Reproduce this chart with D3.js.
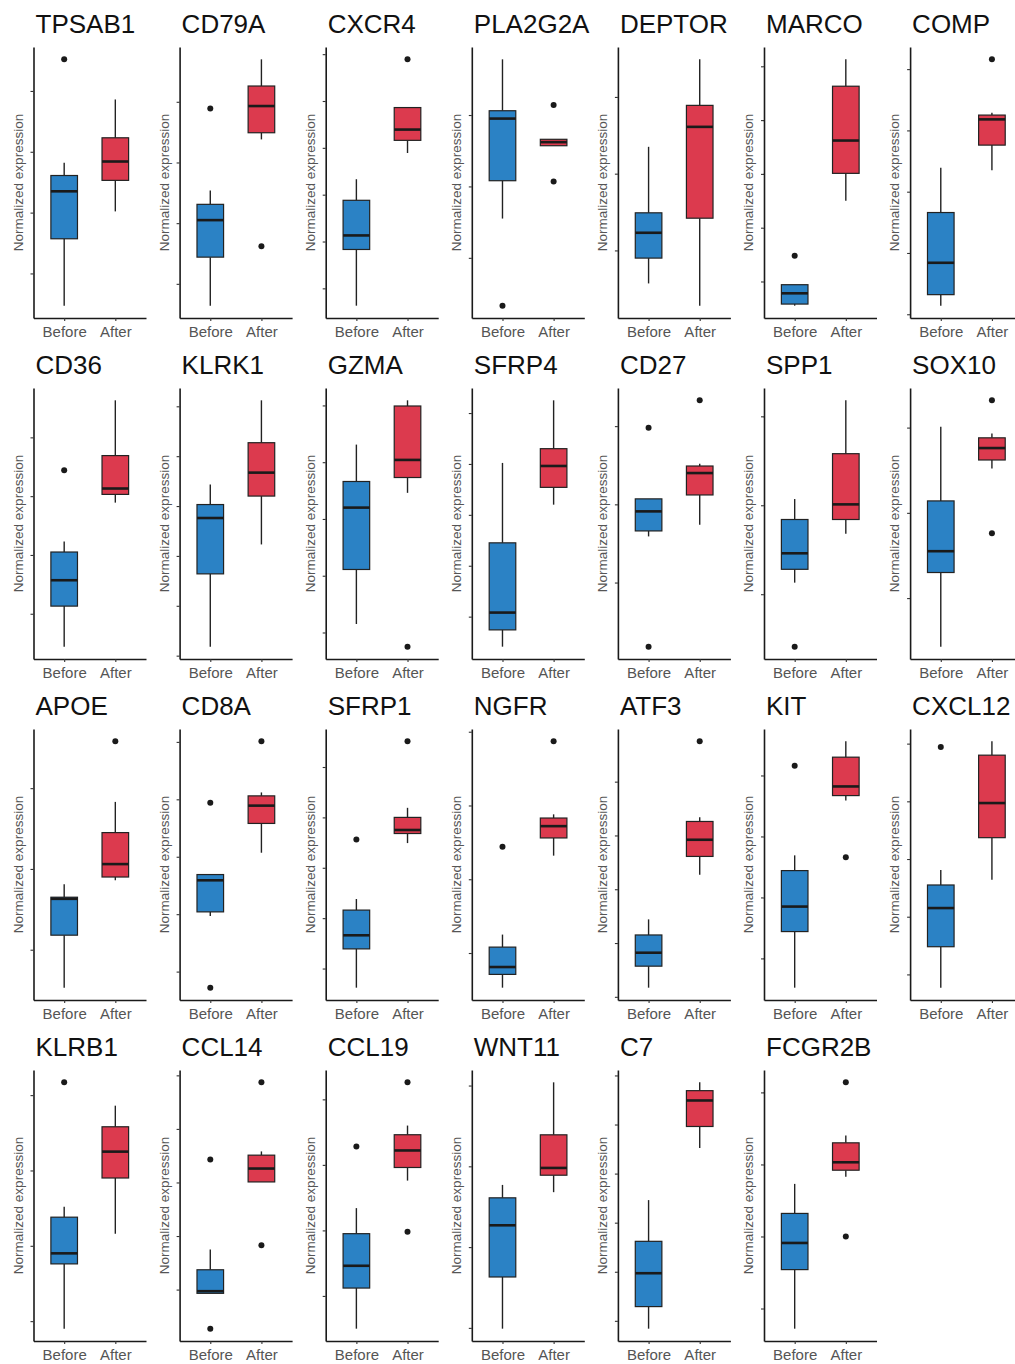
<!DOCTYPE html>
<html>
<head>
<meta charset="utf-8">
<script src="https://cdn.jsdelivr.net/npm/d3@7"></script>
<style>
  html, body { margin: 0; padding: 0; background: #fff; }
  svg { display: block; font-family: "Liberation Sans", Arial, sans-serif; }
</style>
</head>
<body>
<svg id="chart" width="1015" height="1364"></svg>
<script>
// Genes shown, one small boxplot per gene (row-major, 7 per row)
const genes = ["TPSAB1","CD79A","CXCR4","PLA2G2A","DEPTOR","MARCO","COMP",
               "CD36","KLRK1","GZMA","SFRP4","CD27","SPP1","SOX10",
               "APOE","CD8A","SFRP1","NGFR","ATF3","KIT","CXCL12",
               "KLRB1","CCL14","CCL19","WNT11","C7","FCGR2B"];
const groups = ["Before", "After"];
const yLabel = "Normalized expression";

// Box statistics per gene: [lower whisker, Q1, median, Q3, upper whisker]
const beforeStats = [
  [0.47,1.57,2.35,2.61,2.82],[0.64,1.44,2.05,2.31,2.54],[0.63,1.83,2.13,2.88,3.33],
  [1.55,2.08,2.95,3.06,3.78],[0.57,0.90,1.23,1.49,2.35],[0.55,0.58,0.78,0.94,0.94],
  [1.14,1.32,1.84,2.66,3.39],
  [0.44,1.13,1.57,2.05,2.23],[1.18,2.64,3.76,4.03,4.43],[1.15,2.11,3.20,3.66,4.31],
  [0.41,0.74,1.08,2.45,4.02],[1.59,1.66,1.91,2.07,2.07],[1.13,1.28,1.46,1.84,2.07],
  [0.43,1.30,1.55,2.14,3.01],
  [0.53,1.18,1.63,1.65,1.81],[1.97,2.04,2.59,2.69,2.70],[0.62,1.39,1.66,2.16,2.38],
  [0.53,0.71,0.81,1.08,1.25],[1.17,1.57,1.82,2.15,2.44],[0.52,1.44,1.85,2.44,2.69],
  [0.77,1.48,2.15,2.55,2.81],
  [0.90,1.76,1.90,2.38,2.52],[0.93,0.93,0.97,1.37,1.75],[0.50,1.12,1.46,1.95,2.34],
  [0.99,1.63,2.27,2.61,2.77],[0.84,1.29,1.97,2.62,3.46],[0.72,1.54,1.91,2.32,2.73]
];
const afterStats = [
  [2.02,2.53,2.84,3.23,3.86],[3.38,3.49,3.93,4.26,4.70],[3.89,4.16,4.39,4.86,4.86],
  [2.57,2.57,2.62,2.66,2.66],[0.28,1.42,2.61,2.89,3.49],[2.50,3.01,3.62,4.63,5.13],
  [3.35,3.76,4.18,4.25,4.29],
  [2.89,3.03,3.13,3.69,4.63],[3.23,4.20,4.67,5.27,6.12],[3.46,3.73,4.04,4.99,5.09],
  [3.20,3.54,3.96,4.30,5.25],[1.74,2.12,2.40,2.49,2.52],[1.68,1.84,2.01,2.58,3.18],
  [2.52,2.62,2.76,2.88,2.93],
  [1.86,1.90,2.06,2.45,2.83],[3.07,3.58,3.89,4.06,4.12],[3.49,3.68,3.75,4.00,4.19],
  [2.32,2.56,2.72,2.83,2.88],[3.27,3.61,3.92,4.26,4.34],[3.59,3.67,3.82,4.30,4.56],
  [2.64,3.37,3.97,4.80,5.04],
  [2.16,2.90,3.25,3.58,3.86],[3.01,3.01,3.26,3.51,3.58],[2.76,2.96,3.22,3.46,3.60],
  [2.68,2.89,2.98,3.39,4.04],[4.52,4.96,5.49,5.69,5.86],[2.83,2.92,3.03,3.30,3.40]
];
// Outlying samples per gene
const beforeOutliers = [
  [4.52],[3.89],[],[0.33],[],[1.48],[],
  [3.44],[],[],[],[2.98,0.18],[0.41],[],
  [],[3.94,0.72],[3.56],[2.44],[],[4.16],[4.94],
  [4.17],[3.43,0.27],[3.28],[],[],[]
];
const afterOutliers = [
  [],[1.62],[5.89],[3.14,2.07],[],[],[5.16],
  [],[],[0.75],[],[3.33],[],[3.32,1.76],
  [3.58],[5.01],[5.51],[3.87],[5.75],[2.66],[],
  [],[4.87,1.83],[4.26,1.98],[],[],[4.14,2.00]
];
// Y tick positions per gene (unlabelled ticks)
const yTicks = [
  [1,2,3,4],[1,2,3,4],[1,2,3,4,5,6],[1,2,3],[1,2,3],[1,2,3,4,5],[1,2,3,4,5],
  [1,2,3,4],[1,2,3,4,5,6],[1,2,3,4,5],[1,2,3,4,5],[1,2,3],[1,2,3],[1,2,3],
  [1,2,3],[1,2,3,4,5],[1,2,3,4,5],[1,2,3,4],[1,2,3,4,5],[1,2,3,4],[1,2,3,4,5],
  [1,2,3,4],[1,2,3,4,5],[1,2,3,4],[1,2,3,4],[1,2,3,4,5,6],[1,2,3,4]
];
const fills = { Before: "#2b82c5", After: "#dc3a4e" };

// Layout of the facet grid
const cols = 7;
const left0 = 33.5, colStep = 146.1;
const top0 = 47, rowStep = 341;
const pw = 112.5, ph = 271;

const svg = d3.select("#chart");
svg.append("rect").attr("width", 1015).attr("height", 1364).attr("fill", "#fff");

genes.forEach((gene, i) => {
  const r = Math.floor(i / cols), c = i % cols;
  const g = svg.append("g")
    .attr("transform", `translate(${left0 + colStep * c},${top0 + rowStep * r})`);

  const sets = [
    { key: "Before", s: beforeStats[i], out: beforeOutliers[i] },
    { key: "After",  s: afterStats[i],  out: afterOutliers[i] }
  ];
  const all = sets.flatMap(d => d.s.concat(d.out));
  const lo = d3.min(all), hi = d3.max(all), pad = 0.05 * (hi - lo);

  const y = d3.scaleLinear().domain([lo - pad, hi + pad]).range([ph, 0]);
  const x = d3.scalePoint().domain(groups).range([0, pw]).padding(0.6);
  const bw = x.step() * 0.52;

  // boxes
  sets.forEach(d => {
    const cx = x(d.key);
    const [wl, q1, med, q3, wh] = d.s;
    const bg = g.append("g");
    bg.append("line").attr("x1", cx).attr("x2", cx).attr("y1", y(wl)).attr("y2", y(q1))
      .attr("stroke", "#222").attr("stroke-width", 1.4);
    bg.append("line").attr("x1", cx).attr("x2", cx).attr("y1", y(q3)).attr("y2", y(wh))
      .attr("stroke", "#222").attr("stroke-width", 1.4);
    bg.append("rect").attr("x", cx - bw / 2).attr("width", bw)
      .attr("y", y(q3)).attr("height", Math.max(y(q1) - y(q3), 0.5))
      .attr("fill", fills[d.key]).attr("stroke", "#222").attr("stroke-width", 1.2);
    bg.append("line").attr("x1", cx - bw / 2).attr("x2", cx + bw / 2)
      .attr("y1", y(med)).attr("y2", y(med))
      .attr("stroke", "#1a1a1a").attr("stroke-width", 2.6);
    bg.selectAll("circle").data(d.out).join("circle")
      .attr("cx", cx).attr("cy", v => y(v)).attr("r", 3).attr("fill", "#1a1a1a");
  });

  // axes
  const ya = g.append("g").call(d3.axisLeft(y).tickValues(yTicks[i]).tickSize(3)
    .tickSizeOuter(0).tickFormat(""));
  const xa = g.append("g").attr("transform", `translate(0,${ph})`)
    .call(d3.axisBottom(x).tickSize(3).tickSizeOuter(0).tickPadding(5));
  [ya, xa].forEach(a => {
    a.select(".domain").attr("stroke", "#1a1a1a").attr("stroke-width", 1.6);
    a.selectAll(".tick line").attr("stroke", "#333").attr("stroke-width", 1.1);
  });
  xa.selectAll(".tick text").attr("font-size", 15).attr("fill", "#555")
    .attr("font-family", "Liberation Sans, Arial, sans-serif");

  // y axis title
  g.append("text")
    .attr("transform", `translate(-11,${ph / 2}) rotate(-90)`)
    .attr("text-anchor", "middle")
    .attr("font-size", 13.5).attr("fill", "#555")
    .text(yLabel);

  // panel title
  g.append("text").attr("x", 2).attr("y", -14)
    .attr("font-size", 26).attr("fill", "#111")
    .text(gene);
});
</script>
</body>
</html>
